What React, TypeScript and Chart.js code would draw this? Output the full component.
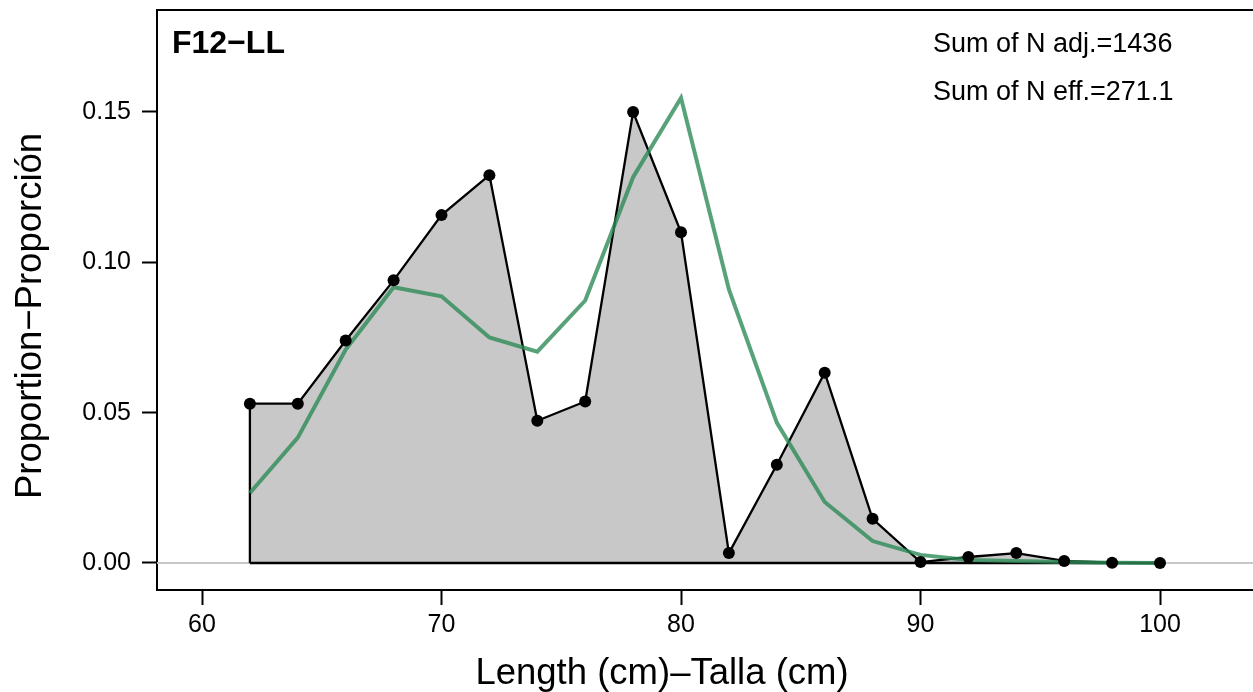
import React, { useEffect, useRef } from "react";
import { Chart, registerables } from "chart.js";

Chart.register(...registerables);

// ---- data ----
const lengths = [62, 64, 66, 68, 70, 72, 74, 76, 78, 80, 82, 84, 86, 88, 90, 92, 94, 96, 98, 100];
const observed = [0.053, 0.053, 0.074, 0.094, 0.1157, 0.129, 0.0473, 0.0537, 0.15, 0.11, 0.0033, 0.0327, 0.0633, 0.0147, 0.0003, 0.002, 0.0033, 0.0007, 0.0001, 0.0];
const expected = [0.0233, 0.0417, 0.071, 0.0917, 0.0887, 0.075, 0.0703, 0.0873, 0.1283, 0.1547, 0.091, 0.0467, 0.0203, 0.0073, 0.0027, 0.001, 0.0007, 0.0003, 0.0001, 0.0];
const xTicks = [60, 70, 80, 90, 100];
const yTicks = [0, 0.05, 0.1, 0.15];
const panelLabel = "F12\u2212LL";
const sumLines = ["Sum of N adj.=1436", "Sum of N eff.=271.1"];
const xTitle = "Length (cm)\u2013Talla (cm)";
const yTitle = "Proportion\u2212Proporci\u00f3n";

const FONT = "'Liberation Sans', Arial, Helvetica, sans-serif";

export default function App() {
  const ref = useRef<HTMLCanvasElement | null>(null);

  useEffect(() => {
    const canvas = ref.current;
    if (!canvas) return;

    const obsPts = lengths.map((x, i) => ({ x, y: observed[i] }));
    const expPts = lengths.map((x, i) => ({ x, y: expected[i] }));
    const polyPts = [{ x: lengths[0], y: 0 }, ...obsPts, { x: lengths[lengths.length - 1], y: 0 }];
    const basePts = [{ x: lengths[0], y: 0 }, { x: lengths[lengths.length - 1], y: 0 }];

    const zeroPad = (s: any) => {
      s.paddingTop = 0;
      s.paddingBottom = 0;
      s.paddingLeft = 0;
      s.paddingRight = 0;
    };

    const decor = {
      id: "decor",
      beforeDatasetsDraw(chart: any) {
        const { ctx, chartArea, scales } = chart;
        const y0 = scales.y.getPixelForValue(0);
        ctx.save();
        ctx.strokeStyle = "#c8c8c8";
        ctx.lineWidth = 2;
        ctx.beginPath();
        ctx.moveTo(chartArea.left, y0);
        ctx.lineTo(chartArea.right, y0);
        ctx.stroke();
        ctx.restore();
      },
      afterDraw(chart: any) {
        const { ctx, chartArea } = chart;
        ctx.save();
        // box top edge
        ctx.strokeStyle = "#000";
        ctx.lineWidth = 2;
        ctx.beginPath();
        ctx.moveTo(chartArea.left - 1, chartArea.top);
        ctx.lineTo(chartArea.right + 2, chartArea.top);
        ctx.stroke();

        ctx.fillStyle = "#000";
        ctx.textBaseline = "alphabetic";
        ctx.textAlign = "left";
        ctx.font = `bold 32px ${FONT}`;
        ctx.fillText(panelLabel, 172, 53);

        ctx.font = `27px ${FONT}`;
        ctx.fillText(sumLines[0], 933, 52);
        ctx.fillText(sumLines[1], 933, 100);

        // axis titles
        ctx.font = `36.5px ${FONT}`;
        ctx.textAlign = "center";
        ctx.fillText(xTitle, 662, 684);

        ctx.translate(31, 316);
        ctx.rotate(-Math.PI / 2);
        ctx.textBaseline = "middle";
        ctx.fillText(yTitle, 0, 0);
        ctx.restore();
      },
    };

    const chart = new Chart(canvas, {
      type: "line",
      data: {
        datasets: [
          {
            label: "Observed points",
            data: obsPts,
            showLine: false,
            pointRadius: 6,
            pointBackgroundColor: "#000",
            pointBorderColor: "#000",
            pointBorderWidth: 0,
            order: 0,
          },
          {
            label: "Expected",
            data: expPts,
            borderColor: "rgba(46,139,87,0.8)",
            borderWidth: 4,
            pointRadius: 0,
            fill: false,
            tension: 0,
            order: 1,
          },
          {
            label: "Baseline",
            data: basePts,
            borderColor: "#000",
            borderWidth: 2.3,
            pointRadius: 0,
            fill: false,
            order: 2,
          },
          {
            label: "Observed",
            data: polyPts,
            borderColor: "#000",
            borderWidth: 2.3,
            backgroundColor: "#c8c8c8",
            pointRadius: 0,
            fill: "origin",
            tension: 0,
            order: 3,
          },
        ],
      },
      options: {
        animation: false,
        responsive: false,
        maintainAspectRatio: false,
        layout: { autoPadding: false, padding: { top: 10, right: 0, left: 0, bottom: 0 } },
        plugins: {
          legend: { display: false },
          tooltip: { enabled: false },
          title: { display: false },
        },
        scales: {
          x: {
            type: "linear",
            min: 58.121,
            max: 103.883,
            afterFit: (s: any) => {
              s.height = 102;
              zeroPad(s);
            },
            afterBuildTicks: (s: any) => {
              s.ticks = xTicks.map((v) => ({ value: v }));
            },
            ticks: {
              color: "#000",
              font: { family: FONT, size: 25 },
              padding: 5,
              maxRotation: 0,
              autoSkip: false,
              callback: (v: any) => String(v),
            },
            grid: {
              display: true,
              drawOnChartArea: false,
              drawTicks: true,
              tickLength: 15,
              tickWidth: 2,
              tickColor: "#000",
            },
            border: { display: true, color: "#000", width: 2 },
          },
          y: {
            type: "linear",
            min: -0.00898,
            max: 0.18392,
            afterFit: (s: any) => {
              s.width = 157;
              zeroPad(s);
            },
            afterBuildTicks: (s: any) => {
              s.ticks = yTicks.map((v) => ({ value: v }));
            },
            ticks: {
              color: "#000",
              font: { family: FONT, size: 25 },
              padding: 11,
              autoSkip: false,
              callback: (v: any) => Number(v).toFixed(2),
            },
            grid: {
              display: true,
              drawOnChartArea: false,
              drawTicks: true,
              tickLength: 15,
              tickWidth: 2,
              tickColor: "#000",
            },
            border: { display: true, color: "#000", width: 2 },
          },
        },
      },
      plugins: [decor],
    });

    return () => chart.destroy();
  }, []);

  return (
    <div style={{ position: "absolute", left: 0, top: 0, width: 1253, height: 692, background: "#fff" }}>
      <canvas ref={ref} width={1253} height={692} style={{ display: "block" }} />
    </div>
  );
}
